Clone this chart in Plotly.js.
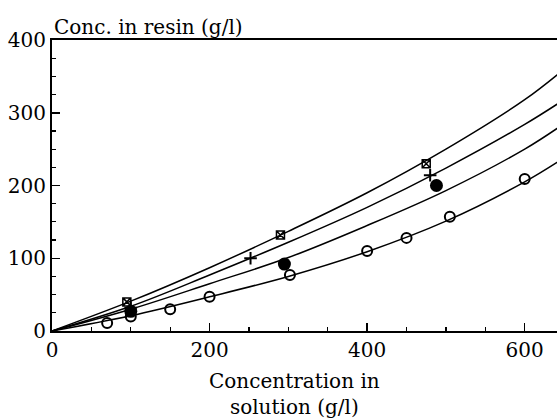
<!DOCTYPE html>
<html>
<head>
<meta charset="utf-8">
<script src="https://cdn.plot.ly/plotly-3.0.1.min.js"></script>
<style>html,body{margin:0;padding:0;background:#fff;}#chart{width:557px;height:420px;}</style>
</head>
<body>
<div id="chart"></div>
<script>
// Fitted curves
const curveX = [0, 100, 200, 300, 400, 500, 600, 650];
const curveSqX = [0, 41, 87, 137, 190, 250, 318, 360];
const curvePlus = [0, 34, 77, 122, 170, 224, 284, 318];
const curveFilled = [0, 30, 65, 101, 145, 193, 250, 285];
const curveOpen = [0, 21, 47, 75, 109, 151, 205, 238];

// Measured points
const sqX_x = [95, 290, 475];
const sqX_y = [40, 132, 230];
const plus_x = [100, 252, 480];
const plus_y = [32, 100, 214];
const filled_x = [100, 295, 488];
const filled_y = [27, 92, 200];
const open_x = [70, 100, 150, 200, 302, 400, 450, 505, 600];
const open_y = [11, 20, 30, 47, 77, 110, 128, 157, 209];

const xTicks = [0, 200, 400, 600];
const yTicks = [0, 100, 200, 300, 400];

const lineStyle = {color: '#000', width: 1.5, shape: 'spline', smoothing: 1};
const traces = [
  {x: curveX, y: curveSqX, mode: 'lines', line: lineStyle, hoverinfo: 'skip'},
  {x: curveX, y: curvePlus, mode: 'lines', line: lineStyle, hoverinfo: 'skip'},
  {x: curveX, y: curveFilled, mode: 'lines', line: lineStyle, hoverinfo: 'skip'},
  {x: curveX, y: curveOpen, mode: 'lines', line: lineStyle, hoverinfo: 'skip'},
  {x: sqX_x, y: sqX_y, mode: 'markers', marker: {symbol: 'square-x-open', size: 8, color: '#000', line: {width: 1.5, color: '#000'}}},
  {x: plus_x, y: plus_y, mode: 'markers', marker: {symbol: 'cross-thin-open', size: 9, color: '#000', line: {width: 2, color: '#000'}}},
  {x: filled_x, y: filled_y, mode: 'markers', marker: {symbol: 'circle', size: 13, color: '#000'}},
  {x: open_x, y: open_y, mode: 'markers', marker: {symbol: 'circle-open', size: 10, color: '#000', line: {width: 2, color: '#000'}}}
];

const font = {family: 'DejaVu Serif, Liberation Serif, serif', color: '#000'};
const layout = {
  width: 557, height: 420,
  margin: {l: 52, r: 0, t: 40, b: 89},
  paper_bgcolor: '#fff', plot_bgcolor: '#fff',
  showlegend: false,
  font: font,
  xaxis: {
    range: [0, 641], showgrid: false, zeroline: false,
    showline: true, linecolor: '#000', linewidth: 2, mirror: true,
    tickmode: 'array', tickvals: xTicks, ticktext: xTicks.map(String),
    ticks: 'inside', ticklen: 8, tickwidth: 1.5, tickcolor: '#000',
    minor: {dtick: 50, ticks: 'inside', ticklen: 4, tickwidth: 1.2, tickcolor: '#000'},
    tickfont: {family: font.family, size: 20, color: '#000'}
  },
  yaxis: {
    range: [0, 400], showgrid: false, zeroline: false,
    showline: true, linecolor: '#000', linewidth: 2,
    tickmode: 'array', tickvals: yTicks, ticktext: yTicks.map(String),
    ticks: 'inside', ticklen: 8, tickwidth: 1.5, tickcolor: '#000',
    minor: {dtick: 25, ticks: 'inside', ticklen: 4, tickwidth: 1.2, tickcolor: '#000'},
    tickfont: {family: font.family, size: 20, color: '#000'}
  },
  annotations: [
    {text: 'Conc. in resin (g/l)', xref: 'paper', yref: 'paper', x: 0, y: 1, xanchor: 'left', yanchor: 'bottom',
     showarrow: false, font: {family: font.family, size: 20, color: '#000'}, yshift: -1},
    {text: 'Concentration in<br>solution (g/l)', xref: 'x', yref: 'paper', x: 308, y: 0, xanchor: 'center', yanchor: 'top',
     showarrow: false, font: {family: font.family, size: 20, color: '#000'}, yshift: -36}
  ]
};

Plotly.newPlot('chart', traces, layout, {displayModeBar: false, staticPlot: true});
</script>
</body>
</html>
